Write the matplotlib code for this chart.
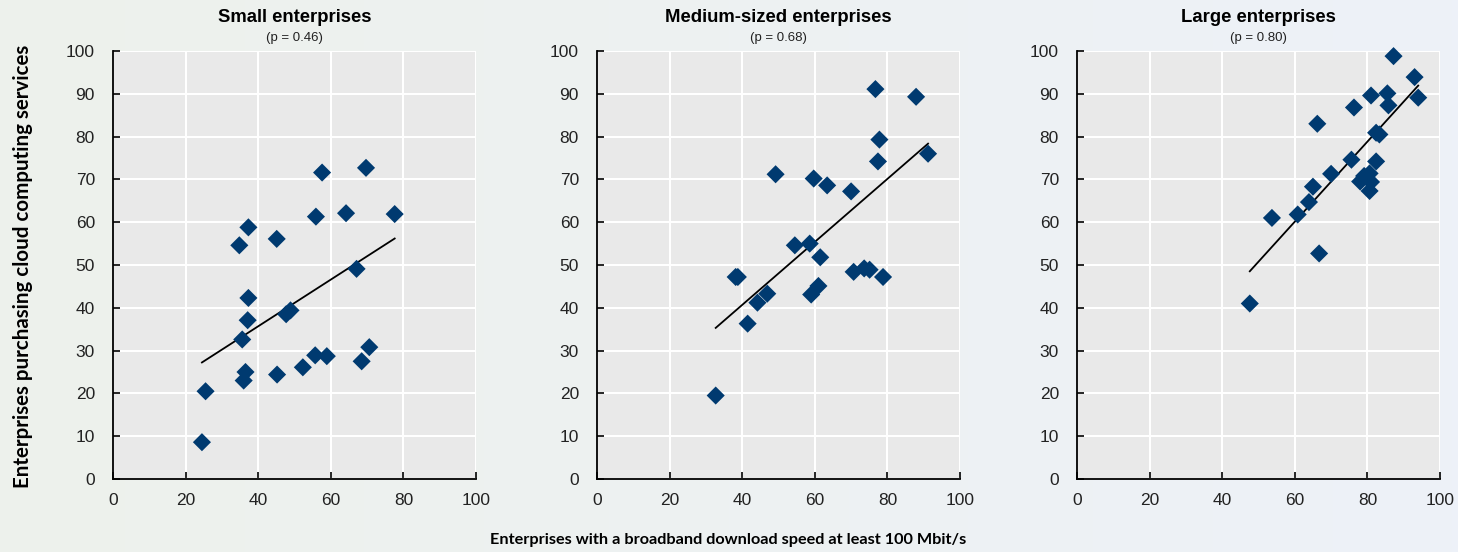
import numpy as np
import matplotlib
matplotlib.use("Agg")
import matplotlib.pyplot as plt
from matplotlib.colors import LinearSegmentedColormap

# 데이터
small_x = [24.5, 25.5, 34.8, 37.3, 45.1, 57.6, 69.7, 55.9, 64.2, 77.6, 67.1, 37.3,
           37.1, 47.7, 48.9, 35.6, 36.5, 36.0, 45.2, 52.3, 55.7, 58.9, 68.5, 70.6]
small_y = [8.6, 20.5, 54.6, 58.8, 56.1, 71.6, 72.7, 61.3, 62.1, 61.9, 49.1, 42.3,
           37.1, 38.5, 39.4, 32.6, 25.0, 23.0, 24.4, 26.1, 28.9, 28.7, 27.5, 30.8]

medium_x = [32.7, 38.2, 38.8, 41.5, 44.2, 46.9, 49.2, 54.5, 58.6, 59.7, 63.4, 61.5,
            59.0, 61.0, 70.0, 70.7, 73.6, 75.1, 78.8, 76.7, 77.8, 77.4, 87.9, 91.2]
medium_y = [19.5, 47.2, 47.2, 36.3, 41.2, 43.3, 71.2, 54.6, 55.0, 70.2, 68.6, 51.8,
            43.1, 45.1, 67.2, 48.4, 49.2, 48.9, 47.2, 91.1, 79.3, 74.2, 89.3, 76.0]

large_x = [47.6, 53.7, 60.8, 63.9, 65.0, 66.2, 66.7, 70.0, 75.6, 76.3, 78.0, 79.1,
           80.6, 81.0, 80.6, 82.4, 81.0, 82.4, 83.3, 85.5, 85.8, 87.2, 93.0, 94.0]
large_y = [41.0, 61.0, 61.8, 64.7, 68.3, 83.0, 52.7, 71.3, 74.6, 86.8, 69.5, 70.8,
           71.4, 69.4, 67.3, 74.2, 89.6, 80.9, 80.5, 90.1, 87.3, 98.8, 93.9, 89.1]

titles = ["Small enterprises", "Medium-sized enterprises", "Large enterprises"]
subtitles = ["(p = 0.46)", "(p = 0.68)", "(p = 0.80)"]
panels = [(small_x, small_y), (medium_x, medium_y), (large_x, large_y)]

BODY = ["Liberation Sans", "DejaVu Sans"]
LABEL_FONT = ["Lato", "DejaVu Sans"]
NAVY = "#003a70"

fig = plt.figure(figsize=(14.58, 5.52), dpi=100)
renderer = fig.canvas.get_renderer()


def fit_width(txt, target_px, horizontal=True):
    # 글자 크기를 목표 폭에 맞춤
    bb = txt.get_window_extent(renderer)
    size = bb.width if horizontal else bb.height
    txt.set_fontsize(txt.get_fontsize() * target_px / size)


# 배경 그라데이션
bg = fig.add_axes([0, 0, 1, 1], zorder=-10)
cmap = LinearSegmentedColormap.from_list("bg", ["#edf1ec", "#edf1f8"])
grad = np.linspace(0, 1, 256).reshape(1, -1)
bg.imshow(grad, aspect="auto", cmap=cmap, extent=[0, 1, 0, 1])
bg.axis("off")

lefts = [113 / 1458, 597 / 1458, 1077 / 1458]
width = 363 / 1458
bottom = 73 / 552
height = 428 / 552
title_w = [155, 228, 156]

for i, (xs, ys) in enumerate(panels):
    ax = fig.add_axes([lefts[i], bottom, width, height])
    ax.set_facecolor("#e9e9e9")
    ax.set_xlim(0, 100)
    ax.set_ylim(0, 100)
    ax.set_xticks(range(0, 101, 20))
    ax.set_yticks(range(0, 101, 10))
    ax.grid(True, color="white", linewidth=1.5)
    ax.set_axisbelow(True)
    for side in ["top", "right"]:
        ax.spines[side].set_visible(False)
    for side in ["left", "bottom"]:
        ax.spines[side].set_color("black")
        ax.spines[side].set_linewidth(1.3)
    ax.tick_params(axis="both", direction="in", length=5, width=1.2, color="black")
    ax.tick_params(axis="y", pad=13)
    ax.tick_params(axis="x", pad=10)
    for lab in ax.get_xticklabels() + ax.get_yticklabels():
        lab.set_family(BODY)
        lab.set_fontsize(12.5)
        lab.set_color("#222222")

    # 추세선
    xa = np.array(xs)
    ya = np.array(ys)
    k, b = np.polyfit(xa, ya, 1)
    xl = np.array([xa.min(), xa.max()])
    ax.plot(xl, k * xl + b, color="black", linewidth=1.3, zorder=2)

    ax.scatter(xs, ys, marker="D", s=85, color=NAVY, edgecolors="none", zorder=3, clip_on=False)

    cx = lefts[i] + width / 2
    t = fig.text(cx, 1 - 17 / 552, titles[i], ha="center", va="center",
                 fontsize=14, fontweight="bold", family=BODY)
    fit_width(t, title_w[i])
    fig.text(cx, 1 - 38 / 552, subtitles[i], ha="center", va="center",
             fontsize=9.5, family=BODY, color="#222222")

yl = fig.text(23 / 1458, 1 - 266 / 552, "Enterprises purchasing cloud computing services",
              rotation=90, ha="center", va="center", fontsize=13, fontweight="bold",
              family=LABEL_FONT)
fit_width(yl, 442, horizontal=False)
xl_txt = fig.text(728 / 1458, 1 - 540 / 552,
                  "Enterprises with a broadband download speed at least 100 Mbit/s",
                  ha="center", va="center", fontsize=12, fontweight="bold", family=LABEL_FONT)
fit_width(xl_txt, 475)

fig.savefig("out.png", dpi=100)
